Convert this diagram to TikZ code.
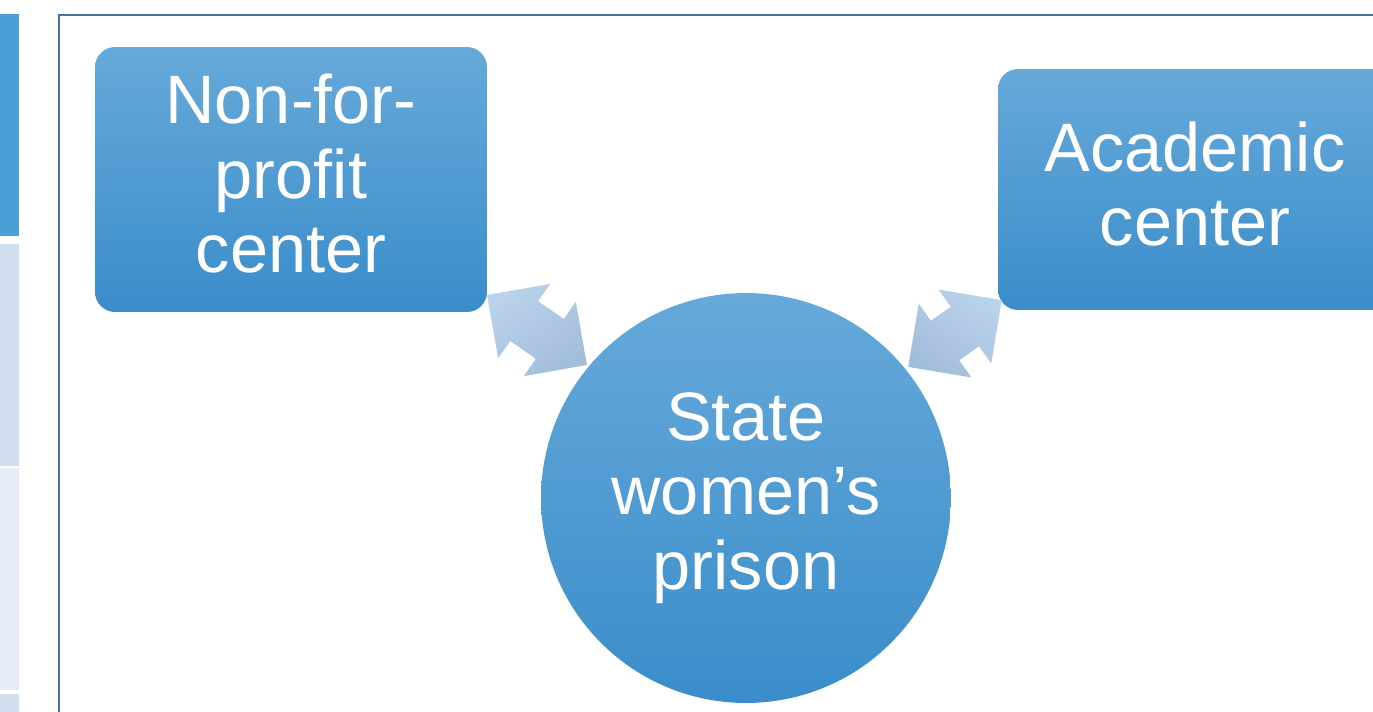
\documentclass[tikz,border=0pt]{standalone}
\usepackage{fontspec}
\setmainfont{Liberation Sans}
\usetikzlibrary{shapes,shapes.arrows,positioning}

\definecolor{framecol}{HTML}{41739C}
\definecolor{stripdark}{HTML}{4A9FD6}
\definecolor{striplight}{HTML}{D0DEEF}
\definecolor{stripfaint}{HTML}{E6EDF7}
\definecolor{boxtop}{HTML}{66A9DA}
\definecolor{boxmid}{HTML}{469DDC}
\definecolor{boxbot}{HTML}{3A8DCA}
\definecolor{arrtop}{HTML}{BAD3EC}
\definecolor{arrbot}{HTML}{A2BCDB}

\tikzset{
  blueshade/.style={top color=boxtop, middle color=boxmid, bottom color=boxbot, draw=none},
  boxtext/.style={text=white, align=center, font=\fontsize{39}{42.3}\selectfont},
  centerbox/.style={blueshade, boxtext, rectangle, rounded corners=0.4cm, inner sep=0pt, text depth=0.24cm},
  prisoncircle/.style={blueshade, boxtext, circle, inner sep=0pt, minimum size=8.2cm},
  linkarrow/.style={double arrow, draw=none, top color=arrtop, bottom color=arrbot,
    double arrow head extend=0.42cm, double arrow tip angle=90,
    minimum width=1.8cm, inner xsep=0pt, inner ysep=0.48cm}
}

\begin{document}
\begin{tikzpicture}[x=0.02cm,y=-0.02cm]
  \useasboundingbox (0,0) rectangle (1373,711);

  % --------
  % Side strip and frame
  % --------
  \fill[stripdark] (0,14) rectangle (19,236);
  \fill[striplight] (0,244) rectangle (19,466);
  \fill[stripfaint] (0,468) rectangle (19,690);
  \fill[striplight] (0,694) rectangle (19,720);
  \draw[framecol, line width=0.04cm] (59,15) rectangle (1420,760);

  % --------
  % Partners
  % --------
  \node[centerbox, minimum width=7.84cm, minimum height=5.3cm] at (291,179.5) (nonprofit) {Non-for-\\profit\\center};
  \node[centerbox, minimum width=7.88cm, minimum height=4.82cm] at (1195,189.5) (academic) {Academic\\center};
  \node[prisoncircle] at (746,498) (prison) {State\\women’s\\prison};

  % Draw arrows
  \node[linkarrow, minimum height=2.44cm, rotate=-35, shading angle=35] at (537,330) (linkleft) {};
  \node[linkarrow, minimum height=2.3cm, rotate=35.5, shading angle=-35.5] at (955,333.5) (linkright) {};
\end{tikzpicture}
\end{document}
